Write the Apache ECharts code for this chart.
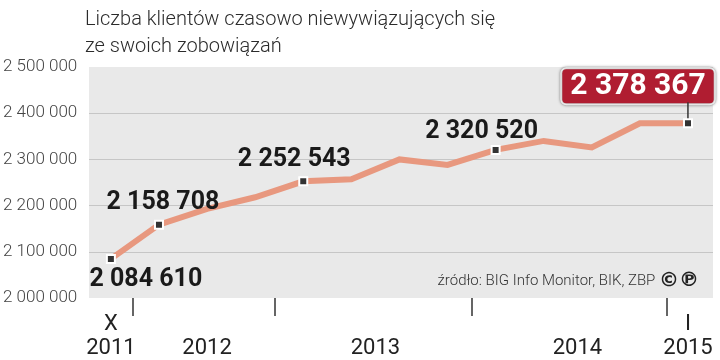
<!DOCTYPE html>
<html>
<head>
<meta charset="utf-8">
<script src="https://cdn.jsdelivr.net/npm/echarts@6/dist/echarts.min.js"></script>
<style>html,body{margin:0;padding:0;background:#fff}#c{width:720px;height:360px}</style>
</head>
<body>
<div id="c"></div>
<script>
// ---- data ----
var titleText = 'Liczba klientów czasowo niewywiązujących się\nze swoich zobowiązań';
var sourceText = 'źródło: BIG Info Monitor, BIK, ZBP';
var periods = ['X 2011','2012a','2012b','2012c','2013a','2013b','2013c','2013d','2014a','2014b','2014c','2014d','I 2015'];
var values = [2084610, 2158708, 2193000, 2218000, 2252543, 2257000, 2300000, 2288000, 2320520, 2340000, 2326000, 2378000, 2378367];
var labeledIdx = [0, 1, 4, 8, 12];
var highlightIdx = 12;
var yearLabels = ['2011', '2012', '2013', '2014', '2015'];
var monthMarks = ['X', '', '', '', 'I'];
var yearLabelPos = [0, 2, 5.5, 9.7, 12];       // position on the period axis
var yearBoundaries = [0.45, 3.4, 7.5, 11.55];  // between periods
var yTicks = [2000000, 2100000, 2200000, 2300000, 2400000, 2500000];

function fmt(v) { return String(v).replace(/\B(?=(\d{3})+(?!\d))/g, ' '); }

var labelOffsets = {0: [35, 21], 1: [4, -22], 4: [-9, -22], 8: [-14, -18], 12: [-50, -29]};

var seriesData = values.map(function (v, i) {
  var item = { value: [i, v] };
  if (labeledIdx.indexOf(i) >= 0) {
    item.symbol = 'rect';
    item.symbolSize = 8;
    if (i === highlightIdx) {
      item.label = {
        show: true, position: 'inside', offset: labelOffsets[i],
        formatter: function (p) { return '{box|' + fmt(p.value[1]) + '}\n{stem|}{gap|}'; },
        rich: {
          box: {
            color: '#fff', fontFamily: 'Roboto', fontWeight: 'bold', fontSize: 30, lineHeight: 32,
            backgroundColor: '#b01d31', borderColor: '#fff', borderWidth: 2, borderRadius: 4,
            padding: [2, 8, 2, 8], shadowColor: 'rgba(0,0,0,0.5)', shadowBlur: 3
          },
          stem: { width: 1.5, height: 16, backgroundColor: '#333', align: 'right' },
          gap: { width: 25, height: 16, align: 'right' }
        }
      };
    } else {
      item.label = {
        show: true, position: 'inside', offset: labelOffsets[i],
        formatter: function (p) { return fmt(p.value[1]); },
        color: '#1a1a1a', fontFamily: 'Roboto', fontWeight: 'bold', fontSize: 25
      };
    }
  } else {
    item.symbol = 'none';
  }
  return item;
});

var chart = echarts.init(document.getElementById('c'), null, { renderer: 'canvas' });
chart.setOption({
  animation: false,
  backgroundColor: '#fff',
  title: [{
    text: titleText, left: 80, top: 1,
    textStyle: { fontFamily: 'Roboto', fontWeight: 300, fontSize: 20, lineHeight: 27, color: '#2b2b2b' }
  }, {
    text: sourceText + ' {cp|©℗}', right: 16, top: 266,
    textStyle: {
      fontFamily: 'Roboto', fontWeight: 300, fontSize: 15, color: '#333',
      rich: { cp: { fontFamily: 'DejaVu Sans', fontWeight: 'bold', fontSize: 20, color: '#222' } }
    }
  }],
  grid: { left: 86, right: 7, top: 67, bottom: 62, show: true, backgroundColor: '#e9e9e9', borderWidth: 0 },
  xAxis: {
    type: 'value', min: -0.455, max: 12.52,
    axisLine: { show: false }, splitLine: { show: false },
    axisTick: { show: true, customValues: yearBoundaries, length: 18, lineStyle: { color: '#333', width: 1.5 } },
    axisLabel: {
      customValues: yearLabelPos, margin: 14,
      formatter: function (v) {
        var k = yearLabelPos.indexOf(v);
        if (k < 0) return '';
        return monthMarks[k] + '\n' + yearLabels[k];
      },
      fontFamily: 'Roboto', fontSize: 22, lineHeight: 24, color: '#222'
    }
  },
  yAxis: {
    type: 'value', min: yTicks[0], max: yTicks[yTicks.length - 1], interval: 100000,
    axisLine: { show: false }, axisTick: { show: false },
    axisLabel: {
      align: 'left', margin: 86, formatter: function (v) { return fmt(v); },
      fontFamily: 'Roboto', fontWeight: 300, fontSize: 17, color: '#444'
    },
    splitLine: { lineStyle: { color: ['transparent', '#c6c6c6', '#c6c6c6', '#c6c6c6', '#c6c6c6', 'transparent'], width: 1 } }
  },
  series: [{
    type: 'line', data: seriesData,
    lineStyle: { color: '#e8987f', width: 6, join: 'miter' },
    itemStyle: { color: '#333', borderColor: '#fff', borderWidth: 2 },
    z: 3
  }]
});
</script>
</body>
</html>
